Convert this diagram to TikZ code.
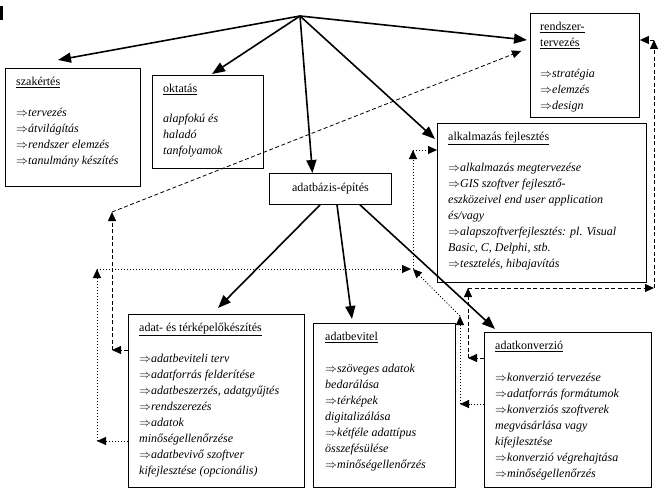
\documentclass[tikz,border=0pt]{standalone}
\usepackage{fontspec}
\setmainfont{Liberation Serif}
\usetikzlibrary{arrows.meta}
\newcommand{\itm}[1]{$\Rightarrow$\textit{#1}}

\begin{document}
\begin{tikzpicture}[x=1pt,y=-1pt,
	box/.style={draw,line width=0.9pt,inner sep=0pt,anchor=north west},
	txt/.style={anchor=north west,inner sep=0pt,align=left,font=\fontsize{12}{16}\selectfont},
	solidarr/.style={line width=1.6pt,-{Triangle[length=13pt,width=10pt]}},
	dasharr/.style={line width=0.8pt,dash pattern=on 4pt off 2.5pt,-{Triangle[length=9pt,width=8pt]}},
	dotarr/.style={line width=0.9pt,dash pattern=on 1pt off 2pt,-{Triangle[length=9pt,width=8pt]}}]
		\useasboundingbox (0,0) rectangle (663,495);
		\fill (0,6) rectangle (3,20);
		
		\node[box,minimum width=135pt,minimum height=118pt] (szak) at (5,68) {};
		\node[box,minimum width=111pt,minimum height=93pt] (okt) at (152,75) {};
		\node[box,minimum width=122pt,minimum height=31pt] (adatb) at (269,173) {};
		\node[box,minimum width=109pt,minimum height=104pt] (rendsz) at (530,13) {};
		\node[box,minimum width=209pt,minimum height=159pt] (alk) at (437,123) {};
		\node[box,minimum width=176pt,minimum height=173pt] (elok) at (128,314) {};
		\node[box,minimum width=142pt,minimum height=164pt] (bev) at (313,323) {};
		\node[box,minimum width=167pt,minimum height=155pt] (konv) at (484,332) {};
		
		\node[txt] (szak-t) at ([xshift=11pt,yshift=-9pt]szak.north west) {\underline{szakértés}\\[15pt]
			\itm{tervezés}\\ \itm{átvilágítás}\\ \itm{rendszer elemzés}\\ \itm{tanulmány készítés}};
		\node[txt] (okt-t) at ([xshift=11pt,yshift=-9pt]okt.north west) {\underline{oktatás}\\[14pt]
			\textit{alapfokú és}\\ \textit{haladó}\\ \textit{tanfolyamok}};
		\node[txt,anchor=center] (adatb-t) at (adatb.center) {adatbázis-építés};
		\node[txt] (rendsz-t) at ([xshift=10pt,yshift=-9pt]rendsz.north west) {\underline{rendszer-}\\ \underline{tervezés}\\[15pt]
			\itm{stratégia}\\ \itm{elemzés}\\ \itm{design}};
		\node[txt] (alk-t) at ([xshift=11pt,yshift=-9pt]alk.north west) {\underline{alkalmazás fejlesztés}\\[15pt]
			\itm{alkalmazás megtervezése}\\ \itm{GIS szoftver fejlesztő-}\\ \textit{eszközeivel end user application}\\
			\textit{és/vagy}\\ \itm{alapszoftverfejlesztés: pl. Visual}\\ \textit{Basic, C, Delphi, stb.}\\
			\itm{tesztelés, hibajavítás}};
		\node[txt] (elok-t) at ([xshift=11pt,yshift=-9pt]elok.north west) {\underline{adat- és térképelőkészítés}\\[15pt]
			\itm{adatbeviteli terv}\\ \itm{adatforrás felderítése}\\ \itm{adatbeszerzés, adatgyűjtés}\\
			\itm{rendszerezés}\\ \itm{adatok}\\ \textit{minőségellenőrzése}\\ \itm{adatbevivő szoftver}\\
			\textit{kifejlesztése (opcionális)}};
		\node[txt] (bev-t) at ([xshift=12pt,yshift=-9pt]bev.north west) {\underline{adatbevitel}\\[16pt]
			\itm{szöveges adatok}\\ \textit{bedarálása}\\ \itm{térképek}\\ \textit{digitalizálása}\\
			\itm{kétféle adattípus}\\ \textit{összefésülése}\\ \itm{minőségellenőrzés}};
		\node[txt] (konv-t) at ([xshift=11pt,yshift=-9pt]konv.north west) {\underline{adatkonverzió}\\[16pt]
			\itm{konverzió tervezése}\\ \itm{adatforrás formátumok}\\ \itm{konverziós szoftverek}\\
			\textit{megvásárlása vagy}\\ \textit{kifejlesztése}\\ \itm{konverzió végrehajtása}\\
			\itm{minőségellenőrzés}};
		
		\coordinate (hub) at (300,16);
		\draw[solidarr] (hub)--([xshift=53pt,yshift=8pt]szak.north west);
		\draw[solidarr] (hub)--([xshift=60pt,yshift=1pt]okt.north west);
		\draw[solidarr] (hub)--([xshift=-18pt]adatb.north);
		\draw[solidarr] (hub)--([xshift=-2pt,yshift=-16pt]alk.north west);
		\draw[solidarr] (hub)--([xshift=-3pt,yshift=-27pt]rendsz.north west);
		\draw[solidarr] ([xshift=51pt]adatb.south west)--([xshift=90pt,yshift=6pt]elok.north west);
		\draw[solidarr] ([xshift=68pt]adatb.south west)--([xshift=39pt,yshift=4pt]bev.north west);
		\draw[solidarr] ([xshift=91pt]adatb.south west)--([xshift=11pt,yshift=3pt]konv.north west);
		
		\coordinate (dA) at (112,350);
		\coordinate (dB) at (112,212);
		\coordinate (dC) at (521,51);
		\draw[dasharr] ([yshift=-36pt]elok.north west)--(dA);
		\draw[dasharr] (dA)--(dB);
		\draw[dasharr] (dB)--(dC);
		
		\coordinate (dD) at (468,358);
		\coordinate (dE) at (468,288);
		\coordinate (dF) at (654,288);
		\coordinate (dG) at (654,40);
		\draw[dasharr] ([yshift=-26pt]konv.north west)--(dD);
		\draw[dasharr] (dD)--(dE);
		\draw[dasharr] (dE)--(dF);
		\draw[dasharr] (dF)--(dG);
		\draw[dasharr] (dG)--([yshift=-27pt]rendsz.north east);
		
		\coordinate (pA) at (97,441);
		\coordinate (pB) at (97,269);
		\coordinate (pC) at (413,269);
		\coordinate (pD) at (413,150);
		\coordinate (pE) at (460,404);
		\coordinate (pF) at (460,316);
		\draw[dotarr] ([yshift=-127pt]elok.north west)--(pA);
		\draw[dotarr] (pA)--(pB);
		\draw[dotarr,shorten >=2pt] (pB)--(pC);
		\draw[dotarr] (pC)--(pD);
		\draw[dotarr] (pD)--([yshift=-27pt]alk.north west);
		\draw[dotarr] ([yshift=-72pt]konv.north west)--(pE);
		\draw[dotarr] (pE)--(pF);
		\draw[dotarr] (pF)--(pC);
	\end{tikzpicture}
\end{document}
